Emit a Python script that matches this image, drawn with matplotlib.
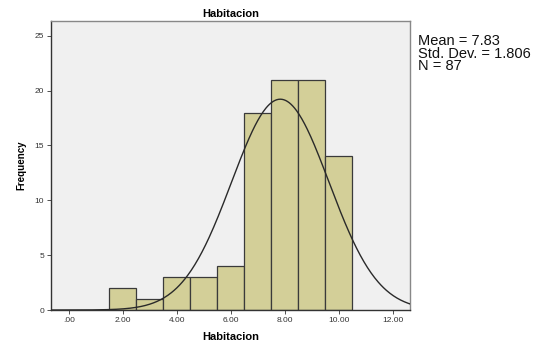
import numpy as np
import matplotlib.pyplot as plt

plt.rcParams['font.family'] = ['Liberation Sans', 'DejaVu Sans']

centros = [2, 3, 4, 5, 6, 7, 8, 9, 10]
frecuencias = [2, 1, 3, 3, 4, 18, 21, 21, 14]
media = 7.83
desv = 1.806
n = 87
ticks_x = [0, 2, 4, 6, 8, 10, 12]
etiquetas_x = [".00", "2.00", "4.00", "6.00", "8.00", "10.00", "12.00"]
ticks_y = [0, 5, 10, 15, 20, 25]

fig = plt.figure(figsize=(5.42, 3.47), dpi=100)
ax = fig.add_axes([0.094, 0.1066, 0.662, 0.833])
ax.set_facecolor('#f0f0f0')

ax.bar(centros, frecuencias, width=1.0, color='#d3cf98', edgecolor='#3a3a3a',
       linewidth=0.9, zorder=2)

# curva normal ajustada
xs = np.linspace(-0.67, 12.63, 400)
ys = n * 1.0 / (desv * np.sqrt(2 * np.pi)) * np.exp(-0.5 * ((xs - media) / desv) ** 2)
ax.plot(xs, ys, color='#2a2a2a', linewidth=1.0, zorder=3)

ax.set_xlim(-0.67, 12.63)
ax.set_ylim(0, 26.35)
ax.set_xticks(ticks_x)
ax.set_xticklabels(etiquetas_x)
ax.set_yticks(ticks_y)
ax.tick_params(axis='both', labelsize=6, length=3, width=0.6, colors='#333333', pad=2)

for s in ax.spines.values():
    s.set_color('#888888')
    s.set_linewidth(1.0)
ax.spines['bottom'].set_color('#333333')
ax.spines['left'].set_color('#333333')

ax.set_title("Habitacion", fontsize=8, fontweight='bold', pad=3)
ax.set_xlabel("Habitacion", fontsize=8, fontweight='bold', labelpad=6)
ax.set_ylabel("Frequency", fontsize=7, fontweight='bold', labelpad=6)

fig.text(0.772, 0.902, f"Mean = {media:.2f}\nStd. Dev. = {desv:.3f}\nN = {n}",
         fontsize=10.5, va='top', ha='left', linespacing=0.88, color='#111111')

fig.savefig("out.png", dpi=100)
